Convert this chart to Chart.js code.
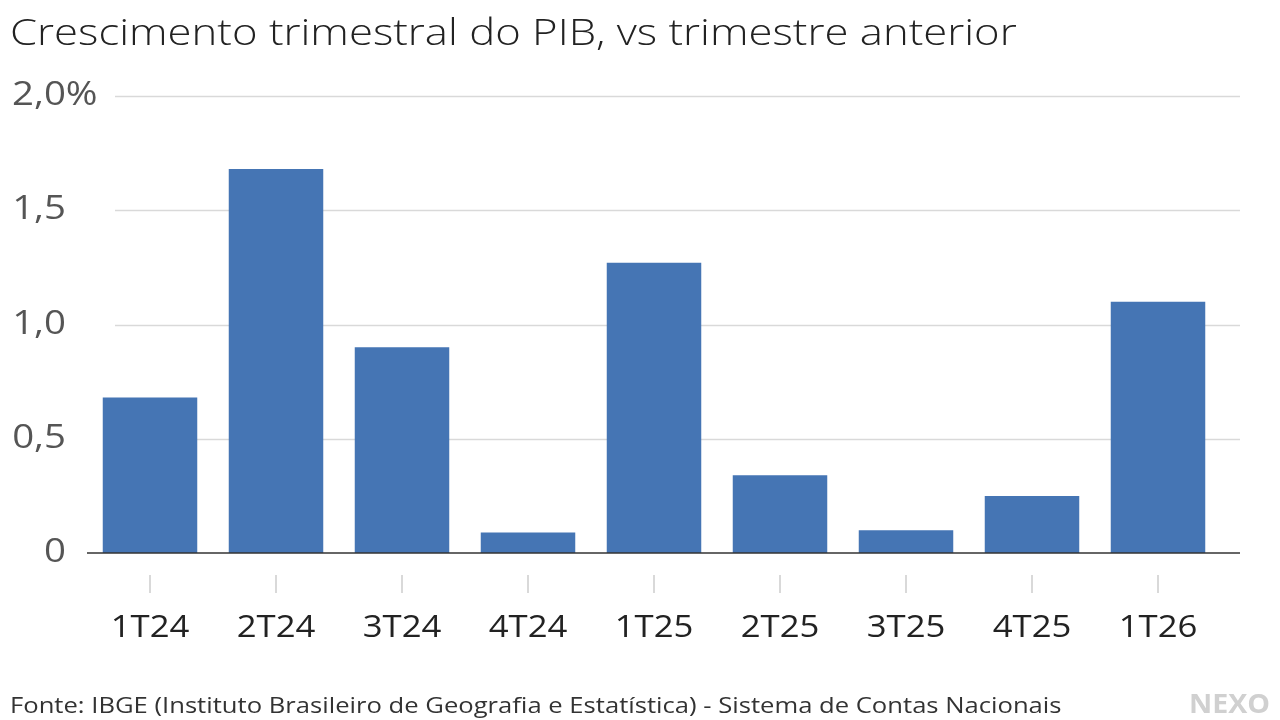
<!DOCTYPE html>
<html><head><meta charset="utf-8">
<script src="https://cdn.jsdelivr.net/npm/chart.js@4"></script>
<style>html,body{margin:0;background:#fff}canvas{display:block}</style>
</head><body>
<div style="width:1280px;height:720px"><canvas id="c"></canvas></div>
<script>
const categories = ['1T24','2T24','3T24','4T24','1T25','2T25','3T25','4T25','1T26']
const values = [0.68, 1.68, 0.90, 0.09, 1.27, 0.34, 0.10, 0.25, 1.10]
const yTicks = [0, 0.5, 1, 1.5, 2]
const yLabels = ['0', '0,5', '1,0', '1,5', '2,0%']

const FONT = '"Open Sans", sans-serif'

// draw text stretched horizontally by sx (fonts here are narrower than the original)
function wideText(ctx, text, x, y, sx, align) {
  ctx.save()
  ctx.textAlign = align
  ctx.translate(x, y)
  ctx.scale(sx, 1)
  ctx.fillText(text, 0, 0)
  ctx.restore()
}

const decor = {
  id: 'decor',
  beforeDatasetsDraw(chart) {
    const ctx = chart.ctx, y = chart.scales.y
    ctx.save()
    ctx.strokeStyle = '#d9d9d9'
    ctx.lineWidth = 1.5
    yTicks.forEach(v => {
      if (v === 0) return
      const py = Math.round(y.getPixelForValue(v)) + 0.5
      ctx.beginPath(); ctx.moveTo(115, py); ctx.lineTo(1240, py); ctx.stroke()
    })
    ctx.restore()
  },
  afterDraw(chart) {
    const ctx = chart.ctx, x = chart.scales.x, y = chart.scales.y
    ctx.save()
    const base = y.getPixelForValue(0)
    ctx.strokeStyle = '#333'; ctx.lineWidth = 1.5
    ctx.beginPath(); ctx.moveTo(87, base); ctx.lineTo(1240, base); ctx.stroke()
    ctx.fillStyle = '#555'
    ctx.font = '32px ' + FONT
    ctx.textBaseline = 'middle'
    yTicks.forEach((v, i) => {
      if (i === 4) wideText(ctx, yLabels[i], 12, y.getPixelForValue(v), 1.2, 'left')
      else wideText(ctx, yLabels[i], 66, y.getPixelForValue(v), 1.2, 'right')
    })
    ctx.strokeStyle = '#ccc'; ctx.lineWidth = 1.5
    ctx.fillStyle = '#222'; ctx.font = '31px ' + FONT
    categories.forEach((c, i) => {
      const px = x.getPixelForValue(i)
      ctx.beginPath(); ctx.moveTo(px, 575); ctx.lineTo(px, 593); ctx.stroke()
      wideText(ctx, c, px, 628, 1.12, 'center')
    })
    ctx.textBaseline = 'alphabetic'
    ctx.fillStyle = '#222'; ctx.font = '300 37px ' + FONT
    wideText(ctx, 'Crescimento trimestral do PIB, vs trimestre anterior', 10, 45, 1.18, 'left')
    ctx.fillStyle = '#333'; ctx.font = '21px ' + FONT
    wideText(ctx, 'Fonte: IBGE (Instituto Brasileiro de Geografia e Estatística) - Sistema de Contas Nacionais', 10, 713, 1.22, 'left')
    ctx.fillStyle = '#d0d0d0'; ctx.font = 'bold 26px ' + FONT
    wideText(ctx, 'NEXO', 1270, 713, 1.1, 'right')
    ctx.restore()
  }
}

new Chart(document.getElementById('c'), {
  type: 'bar',
  data: {
    labels: categories,
    datasets: [{ data: values, backgroundColor: '#4575b4', barPercentage: 0.75, categoryPercentage: 1 }]
  },
  options: {
    responsive: true,
    maintainAspectRatio: false,
    animation: false,
    layout: { padding: { left: 87, right: 59, top: 96, bottom: 167 } },
    plugins: { legend: { display: false }, tooltip: { enabled: false } },
    scales: {
      x: { display: false },
      y: { display: false, min: 0, max: 2 }
    }
  },
  plugins: [decor]
})
</script>
</body></html>
